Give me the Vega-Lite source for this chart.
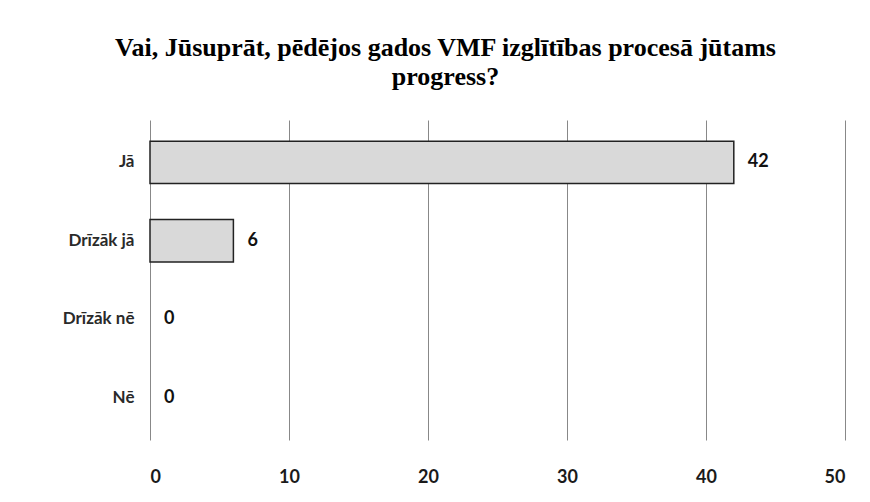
{
  "$schema": "https://vega.github.io/schema/vega-lite/v6.json",
  "autosize": "none",
  "width": 695,
  "height": 320,
  "padding": {"left": 150, "top": 120, "right": 25, "bottom": 62},
  "background": "white",
  "title": {
    "text": ["Vai, Jūsuprāt, pēdējos gados VMF izglītības procesā jūtams", "progress?"],
    "font": "Liberation Serif",
    "fontSize": 26,
    "fontWeight": "bold",
    "color": "black",
    "anchor": "middle",
    "dx": -52,
    "offset": 30,
    "lineHeight": 29
  },
  "data": {
    "values": [
      {"atbilde": "Jā", "skaits": 42},
      {"atbilde": "Drīzāk jā", "skaits": 6},
      {"atbilde": "Drīzāk nē", "skaits": 0},
      {"atbilde": "Nē", "skaits": 0}
    ]
  },
  "config": {"view": {"stroke": null}},
  "encoding": {
    "y": {
      "field": "atbilde",
      "type": "nominal",
      "sort": null,
      "scale": {"paddingInner": 0.46, "paddingOuter": 0.27},
      "axis": {
        "title": null,
        "domain": false,
        "ticks": false,
        "labelFont": "Lato",
        "labelFontSize": 17,
        "labelFontWeight": "bold",
        "labelColor": "#2a2a2a",
        "labelPadding": 16
      }
    },
    "x": {
      "field": "skaits",
      "type": "quantitative",
      "scale": {"domain": [0, 50]},
      "axis": {
        "title": null,
        "values": [0, 10, 20, 30, 40, 50],
        "domain": false,
        "ticks": false,
        "grid": true,
        "gridColor": "#888888",
        "gridWidth": 1,
        "labelFont": "Lato",
        "labelFontSize": 18,
        "labelFontWeight": "bold",
        "labelColor": "#1a1a1a",
        "labelPadding": 28
      }
    }
  },
  "layer": [
    {
      "transform": [{"filter": "datum.skaits > 0"}],
      "mark": {"type": "bar", "fill": "#d9d9d9", "stroke": "#222222", "strokeWidth": 1.5}
    },
    {
      "mark": {"type": "text", "align": "left", "dx": 14, "font": "Lato", "fontSize": 18, "fontWeight": "bold", "color": "#111111"},
      "encoding": {"text": {"field": "skaits", "type": "quantitative"}}
    }
  ]
}
